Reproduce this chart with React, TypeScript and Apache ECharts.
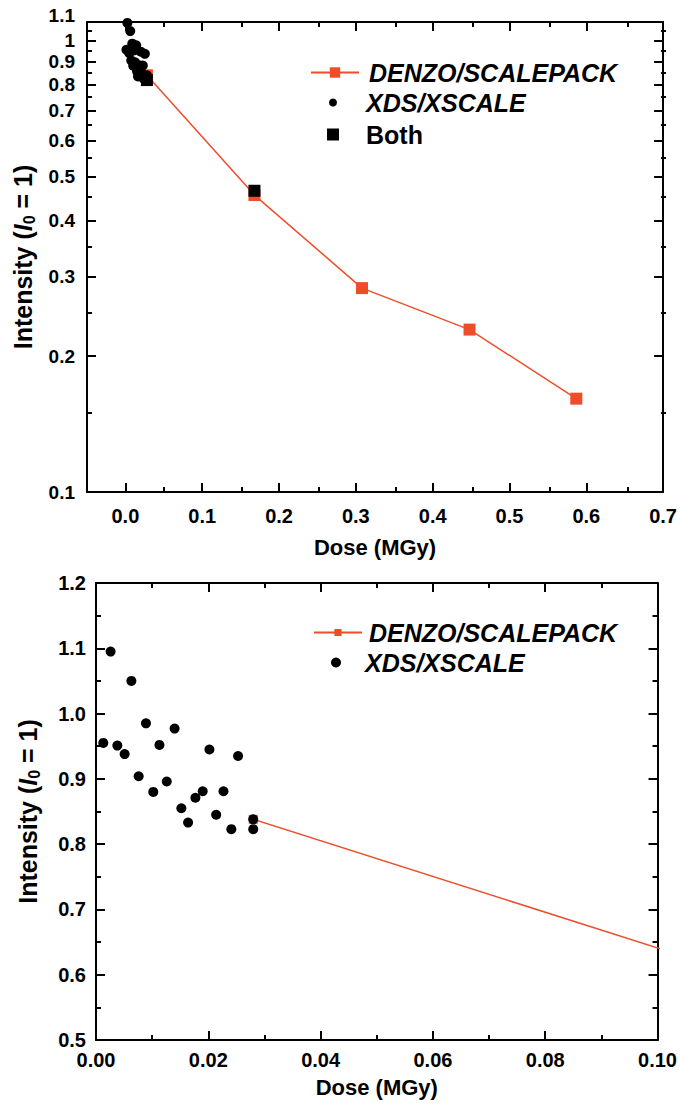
import React, { useEffect, useRef } from "react";
import * as echarts from "echarts";

// ---- data ----
const denzoDose = [0.028, 0.168, 0.308, 0.448, 0.587];
const denzoIntensity = [0.838, 0.455, 0.283, 0.229, 0.161];

const xdsDose = [
  0.0013, 0.0026, 0.0038, 0.0051, 0.0063, 0.0076, 0.0089, 0.0102, 0.0113, 0.0126, 0.014,
  0.0152, 0.0164, 0.0177, 0.019, 0.0202, 0.0214, 0.0227, 0.0241, 0.0253, 0.028, 0.028,
];
const xdsIntensity = [
  0.955, 1.095, 0.951, 0.938, 1.05, 0.904, 0.985, 0.88, 0.952, 0.896, 0.977,
  0.855, 0.833, 0.871, 0.881, 0.945, 0.845, 0.881, 0.823, 0.935, 0.838, 0.823,
];

const bothDose = [0.028, 0.168];
const bothIntensity = [0.818, 0.465];

// tick values
const topXTicks = [0, 0.1, 0.2, 0.3, 0.4, 0.5, 0.6, 0.7];
const topXMinor = [0.05, 0.15, 0.25, 0.35, 0.45, 0.55, 0.65];
const topYTicks = [0.1, 0.2, 0.3, 0.4, 0.5, 0.6, 0.7, 0.8, 0.9, 1];
const topYTopTick = [1.1];
const topYMinor = [0.15, 0.25, 0.35, 0.45, 0.55, 0.65, 0.75, 0.85, 0.95, 1.05];

const FONT = "'Liberation Sans', Arial, Helvetica, sans-serif";
const RED = "#EE4D2A";
const lg = (v: number) => Math.log10(v);

export default function App() {
  const ref = useRef<HTMLDivElement>(null);

  useEffect(() => {
    document.body.style.margin = "0";
    const chart = echarts.init(ref.current!, undefined, { renderer: "svg" });

    const G1 = { left: 87, top: 22, width: 579, height: 470 };
    const G2 = { left: 96, top: 583, width: 564, height: 457 };

    const axisLine = { show: true, onZero: false, lineStyle: { color: "#000", width: 2 } };
    const noLine = { show: false, onZero: false };
    const tickStyle = { color: "#000", width: 2 };
    const major = (vals: number[]) => ({ show: true, inside: true, length: 9, lineStyle: tickStyle, customValues: vals });
    const minor = (vals: number[]) => ({ show: true, inside: true, length: 5, lineStyle: tickStyle, customValues: vals });
    const labelBase = { fontFamily: FONT, fontSize: 20, fontWeight: "bold" as const, color: "#000" };
    const logLabel = { ...labelBase, fontSize: 19, lineHeight: 19 };
    const nameStyle = { fontFamily: FONT, fontSize: 22, fontWeight: "bold" as const, color: "#000" };
    const yNameBase = { fontFamily: FONT, fontSize: 25, fontWeight: "bold" as const, color: "#000" };
    const yName = "{a|Intensity (}{i|I}{s|0}{a| = 1)}";
    const yNameStyle = {
      ...yNameBase,
      rich: {
        a: { ...yNameBase },
        i: { ...yNameBase, fontStyle: "italic" },
        s: { ...yNameBase, fontSize: 16, padding: [13, 0, 0, 0] },
      },
    };
    const hidden = { show: false };
    const legendText = (italic: boolean, pad: number) => ({
      fontFamily: FONT,
      fontSize: 25,
      fontWeight: "bold" as const,
      fontStyle: italic ? "italic" : "normal",
      color: "#000",
      padding: [0, 0, 0, pad],
    });
    const scatterStyle = { color: "#000", opacity: 1 };
    const logFmt = (v: number) => String(parseFloat(Math.pow(10, v).toFixed(3)));

    const topLog = lg(1.1);

    chart.setOption({
      animation: false,
      grid: [
        { ...G1, containLabel: false },
        { ...G1, containLabel: false },
        { ...G2, containLabel: false },
      ],
      xAxis: [
        {
          gridIndex: 0, type: "value", position: "bottom", min: -0.05, max: 0.7,
          axisLine, axisTick: major(topXTicks), splitLine: hidden,
          axisLabel: {
            ...labelBase, margin: 14, customValues: topXTicks, showMaxLabel: true,
            formatter: (v: number) => v.toFixed(1),
          },
          name: "Dose (MGy)", nameLocation: "middle", nameGap: 44, nameTextStyle: nameStyle,
        },
        {
          gridIndex: 0, type: "value", position: "top", min: -0.05, max: 0.7,
          axisLine, axisTick: major(topXTicks), splitLine: hidden, axisLabel: hidden,
        },
        {
          gridIndex: 1, type: "value", position: "bottom", min: -0.05, max: 0.7,
          axisLine: noLine, axisTick: minor(topXMinor), splitLine: hidden, axisLabel: hidden,
        },
        {
          gridIndex: 1, type: "value", position: "top", min: -0.05, max: 0.7,
          axisLine: noLine, axisTick: minor(topXMinor), splitLine: hidden, axisLabel: hidden,
        },
        {
          gridIndex: 2, type: "value", position: "bottom", min: 0, max: 0.1, interval: 0.02,
          axisLine, axisTick: { show: true, inside: true, length: 9, lineStyle: tickStyle },
          minorTick: { show: true, splitNumber: 2, length: 5, lineStyle: tickStyle },
          splitLine: hidden,
          axisLabel: { ...labelBase, margin: 10, formatter: (v: number) => v.toFixed(2) },
          name: "Dose (MGy)", nameLocation: "middle", nameGap: 36, nameTextStyle: nameStyle,
        },
        {
          gridIndex: 2, type: "value", position: "top", min: 0, max: 0.1, interval: 0.02,
          axisLine, axisTick: { show: true, inside: true, length: 9, lineStyle: tickStyle },
          minorTick: { show: true, splitNumber: 2, length: 5, lineStyle: tickStyle },
          splitLine: hidden, axisLabel: hidden,
        },
      ],
      yAxis: [
        {
          gridIndex: 0, type: "value", position: "left", min: -1, max: topLog,
          axisLine, axisTick: major(topYTicks.concat(topYTopTick).map(lg)), splitLine: hidden,
          axisLabel: {
            ...logLabel, margin: 12, customValues: topYTicks.map(lg),
            showMinLabel: true, formatter: logFmt,
          },
          name: yName, nameLocation: "middle", nameGap: 41, nameTextStyle: yNameStyle,
        },
        {
          gridIndex: 0, type: "value", position: "right", min: -1, max: topLog,
          axisLine, axisTick: major(topYTicks.concat(topYTopTick).map(lg)), splitLine: hidden, axisLabel: hidden,
        },
        {
          gridIndex: 1, type: "value", position: "left", min: -1, max: topLog,
          axisLine: noLine, axisTick: minor(topYMinor.map(lg)), splitLine: hidden,
          axisLabel: {
            ...logLabel, lineHeight: 14, verticalAlign: "bottom", margin: 12,
            customValues: topYTopTick.map(lg), showMaxLabel: true, formatter: logFmt,
          },
        },
        {
          gridIndex: 1, type: "value", position: "right", min: -1, max: topLog,
          axisLine: noLine, axisTick: minor(topYMinor.map(lg)), splitLine: hidden, axisLabel: hidden,
        },
        {
          gridIndex: 2, type: "value", position: "left", min: 0.5, max: 1.2, interval: 0.1,
          axisLine, axisTick: { show: true, inside: true, length: 9, lineStyle: tickStyle },
          minorTick: { show: true, splitNumber: 2, length: 5, lineStyle: tickStyle },
          splitLine: hidden,
          axisLabel: { ...labelBase, margin: 10, formatter: (v: number) => v.toFixed(1) },
          name: yName, nameLocation: "middle", nameGap: 54, nameTextStyle: yNameStyle,
        },
        {
          gridIndex: 2, type: "value", position: "right", min: 0.5, max: 1.2, interval: 0.1,
          axisLine, axisTick: { show: true, inside: true, length: 9, lineStyle: tickStyle },
          minorTick: { show: true, splitNumber: 2, length: 5, lineStyle: tickStyle },
          splitLine: hidden, axisLabel: hidden,
        },
      ],
      legend: [
        {
          data: [{ name: "DENZO/SCALEPACK" }], left: 310, top: 60, padding: 0,
          itemWidth: 48, itemHeight: 13, textStyle: legendText(true, 5), selectedMode: false,
        },
        {
          data: [{ name: "XDS/XSCALE" }], left: 329, top: 90, padding: 0,
          itemWidth: 48, itemHeight: 8, textStyle: legendText(true, 4), selectedMode: false,
        },
        {
          data: [{ name: "Both", icon: "path://M0 0H10V10H0Z" }], left: 327, top: 122, padding: 0,
          itemWidth: 48, itemHeight: 12, textStyle: legendText(false, 4), selectedMode: false,
        },
        {
          data: [{ name: "DENZO/SCALEPACK" }], left: 313, top: 620, padding: 0,
          itemWidth: 48, itemHeight: 9, textStyle: legendText(true, 2), selectedMode: false,
        },
        {
          data: [{ name: "XDS/XSCALE" }], left: 331, top: 650, padding: 0,
          itemWidth: 48, itemHeight: 10, textStyle: legendText(true, 0), selectedMode: false,
        },
      ],
      series: [
        {
          name: "DENZO/SCALEPACK", type: "line", xAxisIndex: 0, yAxisIndex: 0, z: 2,
          data: denzoDose.map((x, i) => [x, lg(denzoIntensity[i])]),
          symbol: "rect", symbolSize: 12, color: RED,
          itemStyle: { color: RED, opacity: 1 }, lineStyle: { color: RED, width: 1.5 },
        },
        {
          name: "XDS/XSCALE", type: "scatter", xAxisIndex: 0, yAxisIndex: 0, z: 3,
          data: xdsDose.map((x, i) => [x, lg(xdsIntensity[i])]),
          symbol: "circle", symbolSize: 10, itemStyle: scatterStyle,
        },
        {
          name: "Both", type: "scatter", xAxisIndex: 0, yAxisIndex: 0, z: 4,
          data: bothDose.map((x, i) => [x, lg(bothIntensity[i])]),
          symbol: "rect", symbolSize: 12, itemStyle: scatterStyle,
        },
        {
          name: "DENZO/SCALEPACK", type: "line", xAxisIndex: 4, yAxisIndex: 4, clip: true, z: 2,
          data: denzoDose.map((x, i) => [x, denzoIntensity[i]]),
          symbol: "rect", symbolSize: 9, color: RED,
          itemStyle: { color: RED, opacity: 1 }, lineStyle: { color: RED, width: 1.5 },
        },
        {
          name: "XDS/XSCALE", type: "scatter", xAxisIndex: 4, yAxisIndex: 4, clip: true, z: 3,
          data: xdsDose.map((x, i) => [x, xdsIntensity[i]]),
          symbol: "circle", symbolSize: 10, itemStyle: scatterStyle,
        },
      ],
    });

    return () => chart.dispose();
  }, []);

  return <div ref={ref} style={{ width: 680, height: 1103 }} />;
}
